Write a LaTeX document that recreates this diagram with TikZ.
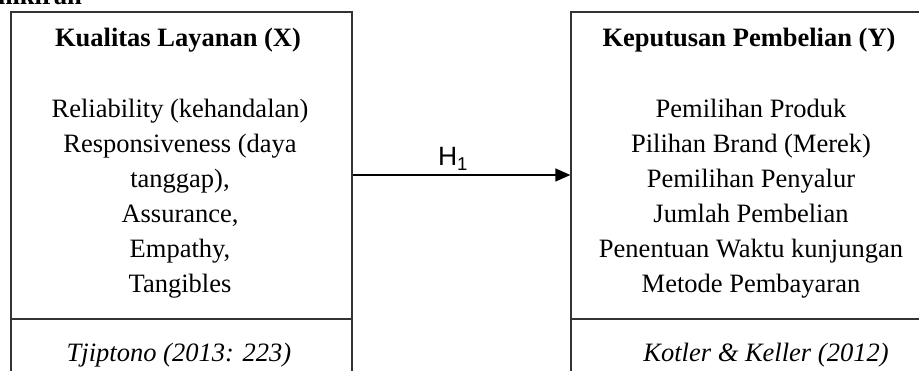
\documentclass[tikz,border=0pt]{standalone}
\usepackage{fontspec}
\setmainfont{Liberation Serif}
\newfontfamily\arialf{Liberation Sans}
\usetikzlibrary{arrows.meta}
\begin{document}
\begin{tikzpicture}[x=1pt,y=-1pt,
  box/.style={draw=black!80, line width=1.3pt, minimum width=341pt, minimum height=400pt, inner sep=0pt},
  txt/.style={font=\fontsize{26.5}{32}\selectfont, anchor=base, inner sep=0pt},
  ttl/.style={txt, font=\fontsize{26.5}{32}\selectfont\bfseries},
  cite/.style={txt, font=\fontsize{26.5}{32}\selectfont\itshape},
  divline/.style={draw=black!80, line width=1.3pt},
  conn/.style={draw=black, line width=1.3pt, -{Triangle[length=15pt,width=13pt]}}
]
\useasboundingbox (0,0) rectangle (919,371);
\clip (0,0) rectangle (919,371);

\node[ttl, anchor=base east] (cap) at (82,5) {Pemikiran};

\node[box] (X) at (181.5,212) {};
\node[box, minimum width=360pt] (Y) at (751,212) {};

\coordinate (dv) at (0,319);
\coordinate (ay) at (0,175);
\draw[divline] (X.west |- dv) -- (X.east |- dv);
\draw[divline] (Y.west |- dv) -- (Y.east |- dv);

\node[ttl] (xt) at (178,47) {Kualitas Layanan (X)};
\node[ttl] (yt) at (749,47) {Keputusan Pembelian (Y)};

\node[txt] (x1) at (180,118) {Reliability (kehandalan)};
\node[txt] (x2) at (180,153) {Responsiveness (daya};
\node[txt] (x3) at (180,188) {tanggap),};
\node[txt] (x4) at (180,223) {Assurance,};
\node[txt] (x5) at (180,258) {Empathy,};
\node[txt] (x6) at (180,293) {Tangibles};

\node[txt] (y1) at (751,118) {Pemilihan Produk};
\node[txt] (y2) at (751,153) {Pilihan Brand (Merek)};
\node[txt] (y3) at (751,188) {Pemilihan Penyalur};
\node[txt] (y4) at (751,223) {Jumlah Pembelian};
\node[txt] (y5) at (751,258) {Penentuan Waktu kunjungan};
\node[txt] (y6) at (751,293) {Metode Pembayaran};

\node[cite] (xc) at (179,362) {Tjiptono (2013: 223)};
\node[cite] (yc) at (766,362) {Kotler \& Keller (2012)};

\draw[conn] (X.east |- ay) -- (Y.west |- ay);
\node[txt, font=\fontsize{26.5}{32}\selectfont\arialf] (h1) at (453,166) {H\textsubscript{1}};
\end{tikzpicture}
\end{document}
